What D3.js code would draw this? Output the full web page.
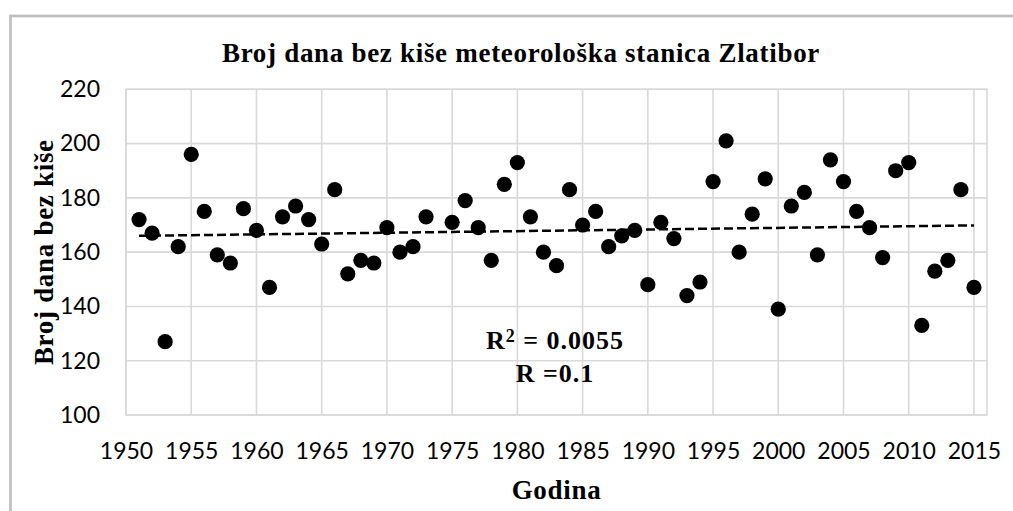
<!DOCTYPE html>
<html>
<head>
<meta charset="utf-8">
<script src="https://cdn.jsdelivr.net/npm/d3@7"></script>
<style>
  body { margin: 0; background: #fff; }
  .tick-label { font-family: Lato, "Open Sans", sans-serif; font-size: 23px; fill: #000; }
  .serif-bold { font-family: "Liberation Serif", serif; font-weight: bold; fill: #000; }
</style>
</head>
<body>
<div id="chart"></div>
<script>
// Data
var years = [1951, 1952, 1953, 1954, 1955, 1956, 1957, 1958, 1959, 1960,
  1961, 1962, 1963, 1964, 1965, 1966, 1967, 1968, 1969, 1970,
  1971, 1972, 1973, 1975, 1976, 1977, 1978, 1979, 1980,
  1981, 1982, 1983, 1984, 1985, 1986, 1987, 1988, 1989, 1990,
  1991, 1992, 1993, 1994, 1995, 1996, 1997, 1998, 1999, 2000,
  2001, 2002, 2003, 2004, 2005, 2006, 2007, 2008, 2009, 2010,
  2011, 2012, 2013, 2014, 2015];
var dryDays = [172, 167, 127, 162, 196, 175, 159, 156, 176, 168,
  147, 173, 177, 172, 163, 183, 152, 157, 156, 169,
  160, 162, 173, 171, 179, 169, 157, 185, 193,
  173, 160, 155, 183, 170, 175, 162, 166, 168, 148,
  171, 165, 144, 149, 186, 201, 160, 174, 187, 139,
  177, 182, 159, 194, 186, 175, 169, 158, 190, 193,
  133, 153, 157, 183, 147];

var yearTicks = [1950, 1955, 1960, 1965, 1970, 1975, 1980, 1985, 1990, 1995, 2000, 2005, 2010, 2015];
var dayTicks = [100, 120, 140, 160, 180, 200, 220];

var chartTitle = "Broj dana bez kiše meteorološka stanica Zlatibor";
var xTitle = "Godina";
var yTitle = "Broj dana bez kiše";
var r2Text = "= 0.0055";
var rText = "R =0.1";

// SVG area
var svgWidth = 1013;
var svgHeight = 511;

var plot = { left: 126, right: 987, top: 89.3, bottom: 415 };

var svg = d3.select("#chart").append("svg")
  .attr("width", svgWidth)
  .attr("height", svgHeight);

// outer chart frame
svg.append("rect")
  .attr("x", 10.5).attr("y", 16)
  .attr("width", 1010).attr("height", 510)
  .attr("fill", "none")
  .attr("stroke", "#bfbfbf")
  .attr("stroke-width", 2.7);

var x = d3.scaleLinear().domain([1950, 2016]).range([plot.left, plot.right]);
var y = d3.scaleLinear().domain([100, 220]).range([plot.bottom, plot.top]);

// gridlines
var grid = svg.append("g").attr("stroke", "#d9d9d9").attr("stroke-width", 1.6);
grid.selectAll("line.v").data(yearTicks).enter().append("line")
  .attr("x1", d => x(d)).attr("x2", d => x(d))
  .attr("y1", plot.top).attr("y2", plot.bottom);
grid.selectAll("line.h").data(dayTicks).enter().append("line")
  .attr("x1", plot.left).attr("x2", plot.right)
  .attr("y1", d => y(d)).attr("y2", d => y(d));
grid.append("rect")
  .attr("x", plot.left).attr("y", plot.top)
  .attr("width", plot.right - plot.left).attr("height", plot.bottom - plot.top)
  .attr("fill", "none");

// axes (labels only)
var xAxis = svg.append("g")
  .attr("transform", `translate(0, ${plot.bottom + 28})`)
  .call(d3.axisBottom(x).tickValues(yearTicks).tickFormat(d3.format("d")).tickSize(0));
xAxis.select(".domain").remove();
xAxis.selectAll("text").attr("class", "tick-label").attr("dy", "0.71em").attr("y", 0);

var yAxis = svg.append("g")
  .attr("transform", `translate(${plot.left - 26}, 0)`)
  .call(d3.axisLeft(y).tickValues(dayTicks).tickSize(0));
yAxis.select(".domain").remove();
yAxis.selectAll("text").attr("class", "tick-label").attr("x", 0);
xAxis.attr("font-size", null).attr("font-family", null);
yAxis.attr("font-size", null).attr("font-family", null);

// linear trend
var xm = d3.mean(years), ym = d3.mean(dryDays);
var sxy = d3.sum(years, (v, i) => (v - xm) * (dryDays[i] - ym));
var sxx = d3.sum(years, v => (v - xm) * (v - xm));
var slope = sxy / sxx, intercept = ym - slope * xm;
var trendYears = [d3.min(years), d3.max(years)];

svg.append("line")
  .attr("x1", x(trendYears[0])).attr("y1", y(intercept + slope * trendYears[0]))
  .attr("x2", x(trendYears[1])).attr("y2", y(intercept + slope * trendYears[1]))
  .attr("stroke", "#000")
  .attr("stroke-width", 2.5)
  .attr("stroke-dasharray", "9,4");

// dots
svg.append("g").selectAll("circle").data(years).enter().append("circle")
  .attr("cx", d => x(d))
  .attr("cy", (d, i) => y(dryDays[i]))
  .attr("r", 7.6)
  .attr("fill", "#000");

// titles
svg.append("text").attr("class", "serif-bold")
  .attr("x", 521).attr("y", 62)
  .attr("text-anchor", "middle").attr("font-size", 27)
  .attr("letter-spacing", 0.7)
  .text(chartTitle);

svg.append("text").attr("class", "serif-bold")
  .attr("x", (plot.left + plot.right) / 2).attr("y", 499)
  .attr("text-anchor", "middle").attr("font-size", 27)
  .attr("letter-spacing", 0.7)
  .text(xTitle);

svg.append("text").attr("class", "serif-bold")
  .attr("transform", `translate(53, ${(plot.top + plot.bottom) / 2}) rotate(-90)`)
  .attr("text-anchor", "middle").attr("font-size", 27)
  .attr("letter-spacing", 0.7)
  .text(yTitle);

// R annotation
var rLabel = svg.append("text").attr("class", "serif-bold")
  .attr("x", 555).attr("y", 349)
  .attr("text-anchor", "middle").attr("font-size", 26)
  .attr("letter-spacing", 1);
rLabel.append("tspan").text("R");
rLabel.append("tspan").attr("dy", -7).attr("font-size", 18).text("2");
rLabel.append("tspan").attr("dy", 7).text(" " + r2Text);

svg.append("text").attr("class", "serif-bold")
  .attr("x", 555).attr("y", 382)
  .attr("text-anchor", "middle").attr("font-size", 26)
  .attr("letter-spacing", 1)
  .text(rText);
</script>
</body>
</html>
